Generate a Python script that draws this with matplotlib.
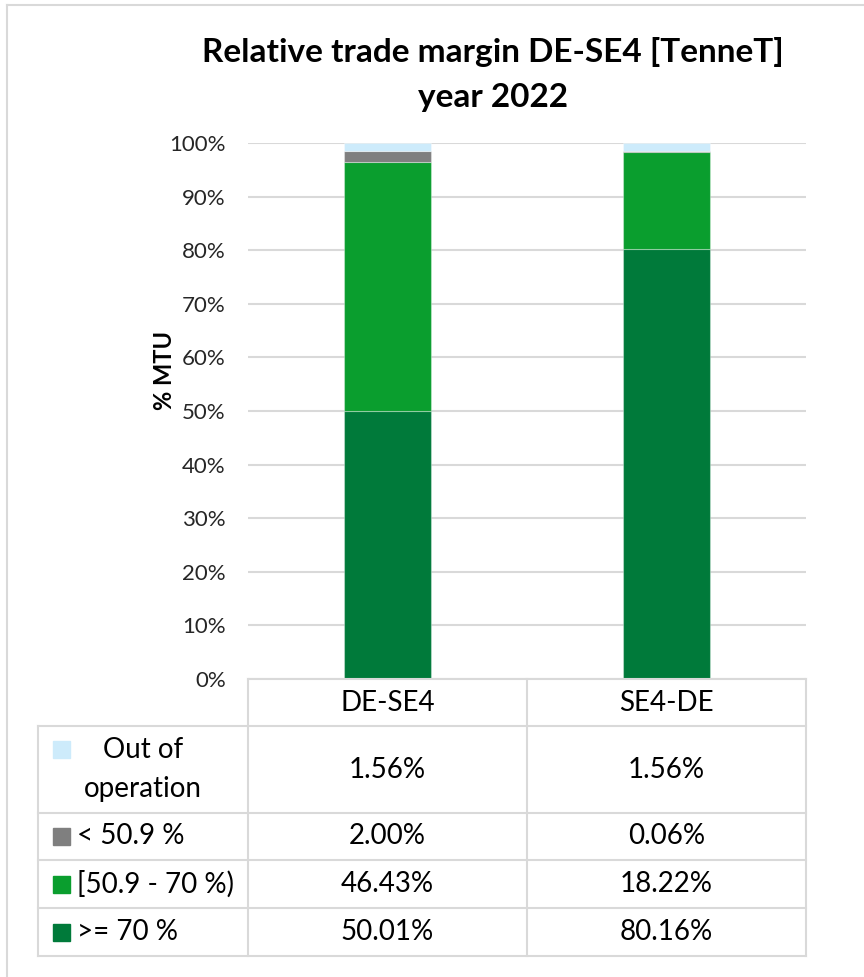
import matplotlib
matplotlib.use("Agg")
import matplotlib.pyplot as plt
from matplotlib.patches import Rectangle
from matplotlib.lines import Line2D

plt.rcParams['font.family'] = ['Lato', 'DejaVu Sans']

# ---- data ----
categories = ["DE-SE4", "SE4-DE"]
series_names = ["Out of\noperation", "< 50.9 %", "[50.9 - 70 %)", ">= 70 %"]
ge70 = [50.01, 80.16]
mid = [46.43, 18.22]
lt509 = [2.00, 0.06]
out_op = [1.56, 1.56]
yticks = [0, 10, 20, 30, 40, 50, 60, 70, 80, 90, 100]
title = "Relative trade margin DE-SE4 [TenneT]\nyear 2022"
ylabel = "% MTU"

colors = {"out": "#CDEBFB", "lt": "#7F7F7F", "mid": "#0A9E2E", "ge": "#007A3A"}
grid_c = "#D9D9D9"

W, H = 864, 977
fig = plt.figure(figsize=(W / 100, H / 100), dpi=100)

def fx(x):
    return x / W

def fy(y):
    return 1 - y / H

# outer frame (top and left visible)
fig.add_artist(Line2D([fx(7), fx(864)], [fy(5), fy(5)], color=grid_c, lw=1.5))
fig.add_artist(Line2D([fx(7), fx(7)], [fy(5), fy(977)], color=grid_c, lw=1.5))

# ---- chart ----
x0, x1, ytop, ybot = 248, 806, 143, 679
ax = fig.add_axes([fx(x0), fy(ybot), (x1 - x0) / W, (ybot - ytop) / H])
pos = [0, 1]
bw = 0.31
bottom = [0.0, 0.0]
for vals, key in [(ge70, "ge"), (mid, "mid"), (lt509, "lt"), (out_op, "out")]:
    ax.bar(pos, vals, bw, bottom=bottom, color=colors[key], edgecolor=(1, 1, 1, 0.35),
           linewidth=0.8, zorder=3)
    bottom = [b + v for b, v in zip(bottom, vals)]
ax.set_xlim(-0.5, 1.5)
ax.set_ylim(0, 100)
ax.set_yticks(yticks)
ax.set_yticklabels([f"{t}%" for t in yticks], fontsize=16, color="#262626")
ax.tick_params(axis="y", length=0, pad=16)
ax.set_xticks([])
for s in ax.spines.values():
    s.set_visible(False)
ax.yaxis.grid(True, color=grid_c, lw=1.5, zorder=0)
ax.set_axisbelow(True)

fig.text(fx(164), fy(370), ylabel, rotation=90, ha="center", va="center",
         fontsize=17, fontweight="bold", color="black")
fig.text(fx(493), fy(52), title.split("\n")[0], ha="center", va="center", fontsize=24,
         fontweight="bold", color="black")
fig.text(fx(493), fy(98), title.split("\n")[1], ha="center", va="center", fontsize=24,
         fontweight="bold", color="black")

# ---- data table ----
col_x = [38, 248, 527, 806]
row_y = [679, 726, 813, 860, 908, 956]
tc = "#D9D9D9"
lw = 1.5
fig.add_artist(Line2D([fx(248), fx(806)], [fy(679), fy(679)], color=tc, lw=lw))
for y in row_y[1:]:
    fig.add_artist(Line2D([fx(38), fx(806)], [fy(y), fy(y)], color=tc, lw=lw))
for x in col_x[1:]:
    fig.add_artist(Line2D([fx(x), fx(x)], [fy(679), fy(956)], color=tc, lw=lw))
fig.add_artist(Line2D([fx(38), fx(38)], [fy(726), fy(956)], color=tc, lw=lw))

fs = 20
for i, c in enumerate(categories):
    cx = (col_x[i + 1] + col_x[i + 2]) / 2
    fig.text(fx(cx), fy(703), c, ha="center", va="center", fontsize=fs, color="black")

rows = [(series_names[0], out_op, colors["out"]),
        (series_names[1], lt509, colors["lt"]),
        (series_names[2], mid, colors["mid"]),
        (series_names[3], ge70, colors["ge"])]
sw = 17
for r, (name, vals, col) in enumerate(rows):
    ya, yb = row_y[r + 1], row_y[r + 2]
    cy = (ya + yb) / 2
    if r == 0:
        sy = 749
        fig.add_artist(Rectangle((fx(53), fy(sy + sw / 2)), sw / W, sw / H, color=col,
                                 transform=fig.transFigure))
        l1, l2 = name.split("\n")
        fig.text(fx(143), fy(750), l1, ha="center", va="center", fontsize=fs, color="black")
        fig.text(fx(143), fy(789), l2, ha="center", va="center", fontsize=fs, color="black")
    else:
        fig.add_artist(Rectangle((fx(53), fy(cy + sw / 2)), sw / W, sw / H, color=col,
                                 transform=fig.transFigure))
        fig.text(fx(77), fy(cy), name, ha="left", va="center", fontsize=fs, color="black")
    for i, v in enumerate(vals):
        cx = (col_x[i + 1] + col_x[i + 2]) / 2
        fig.text(fx(cx), fy(cy), f"{v:.2f}%", ha="center", va="center", fontsize=fs,
                 color="black")

fig.savefig("out.png", dpi=100, facecolor="white")
